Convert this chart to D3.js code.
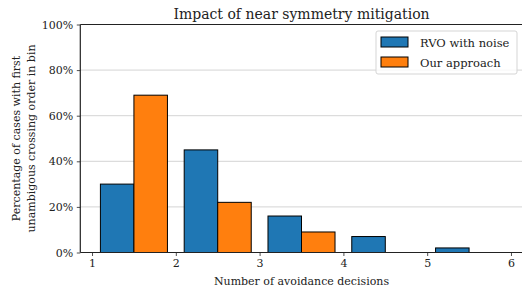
<!DOCTYPE html>
<html>
<head>
<meta charset="utf-8">
<script src="https://cdn.jsdelivr.net/npm/d3@7"></script>
<style>
  body { margin: 0; background: #fff; }
  svg { display: block; font-family: "DejaVu Serif", serif; }
</style>
</head>
<body>
<div id="chart"></div>
<script>
// Données
const bins = [1, 2, 3, 4, 5];
const rvoNoise = [30, 45, 16, 7, 2];
const ourApproach = [69, 22, 9, 0, 0];
const xTicks = [1, 2, 3, 4, 5, 6];
const yTicks = [0, 20, 40, 60, 80, 100];
const seriesNames = ["RVO with noise", "Our approach"];
const colors = ["#1f77b4", "#ff7f0e"];

const width = 522, height = 291;
const margin = { left: 80.3, top: 24.5, bottom: 38.5 };

const svg = d3.select("#chart").append("svg")
    .attr("width", width)
    .attr("height", height);

// Échelles
const x = d3.scaleLinear().domain([0.86, 6.14]).range([margin.left, 522.7]);
const y = d3.scaleLinear().domain([0, 100]).range([height - margin.bottom, margin.top]);

// Grille horizontale
svg.append("g")
    .selectAll("line")
    .data(yTicks.filter(d => d > 0 && d < 100))
    .enter()
    .append("line")
    .attr("x1", x.range()[0])
    .attr("x2", x.range()[1])
    .attr("y1", d => y(d))
    .attr("y2", d => y(d))
    .attr("stroke", "#cfcfcf")
    .attr("stroke-width", 0.9);

// Barres
const barW = 0.4;
const series = [rvoNoise, ourApproach];
series.forEach((vals, s) => {
    svg.append("g")
        .selectAll("rect")
        .data(bins.map((b, i) => ({ b, v: vals[i] })))
        .enter()
        .append("rect")
        .attr("x", d => x(d.b + 0.1 + s * barW))
        .attr("width", x(barW) - x(0))
        .attr("y", d => y(d.v))
        .attr("height", d => y(0) - y(d.v))
        .attr("fill", colors[s])
        .attr("stroke", "#000")
        .attr("stroke-width", 1);
});

// Axes
const xAxis = svg.append("g")
    .attr("transform", `translate(0,${y(0)})`)
    .call(d3.axisBottom(x).tickValues(xTicks).tickSize(3.5).tickPadding(3.5).tickFormat(d3.format("d")));
const yAxis = svg.append("g")
    .attr("transform", `translate(${x.range()[0]},0)`)
    .call(d3.axisLeft(y).tickValues(yTicks).tickSize(3.5).tickPadding(3.5).tickFormat(d => d + "%"));

[xAxis, yAxis].forEach(a => {
    a.select(".domain").remove();
    a.selectAll("line").attr("stroke", "#222").attr("stroke-width", 0.8);
    a.selectAll("text")
        .attr("font-family", "DejaVu Serif, serif")
        .attr("font-size", 11)
        .attr("fill", "#222");
});

// Cadre (gauche, bas, haut)
const spine = svg.append("g").attr("stroke", "#222").attr("stroke-width", 1.2);
spine.append("line").attr("x1", x.range()[0]).attr("x2", x.range()[0]).attr("y1", y(0)).attr("y2", y(100));
spine.append("line").attr("x1", x.range()[0]).attr("x2", x.range()[1]).attr("y1", y(0)).attr("y2", y(0));
spine.append("line").attr("x1", x.range()[0]).attr("x2", x.range()[1]).attr("y1", y(100)).attr("y2", y(100));

// Titre
svg.append("text")
    .attr("x", (x.range()[0] + x.range()[1]) / 2)
    .attr("y", 19)
    .attr("text-anchor", "middle")
    .attr("font-size", 14)
    .attr("fill", "#222")
    .text("Impact of near symmetry mitigation");

// Titre de l'axe x
svg.append("text")
    .attr("x", (x.range()[0] + x.range()[1]) / 2)
    .attr("y", 285)
    .attr("text-anchor", "middle")
    .attr("font-size", 11)
    .attr("fill", "#222")
    .text("Number of avoidance decisions");

// Titre de l'axe y (deux lignes)
const yMid = (y(0) + y(100)) / 2;
["Percentage of cases with first", "unambigous crossing order in bin"].forEach((t, i) => {
    svg.append("text")
        .attr("transform", `translate(${20 + i * 15},${yMid}) rotate(-90)`)
        .attr("text-anchor", "middle")
        .attr("font-size", 11)
        .attr("fill", "#222")
        .text(t);
});

// Légende
const legend = svg.append("g").attr("transform", "translate(376,31)");
legend.append("rect")
    .attr("width", 141).attr("height", 43)
    .attr("rx", 2)
    .attr("fill", "#fff").attr("fill-opacity", 0.8)
    .attr("stroke", "#d5d5d5").attr("stroke-width", 1);
seriesNames.forEach((name, i) => {
    legend.append("rect")
        .attr("x", 5).attr("y", 6 + i * 20)
        .attr("width", 27).attr("height", 10)
        .attr("fill", colors[i]).attr("stroke", "#000").attr("stroke-width", 1);
    legend.append("text")
        .attr("x", 44).attr("y", 15.5 + i * 20)
        .attr("font-size", 11.5)
        .attr("fill", "#222")
        .text(name);
});
</script>
</body>
</html>
